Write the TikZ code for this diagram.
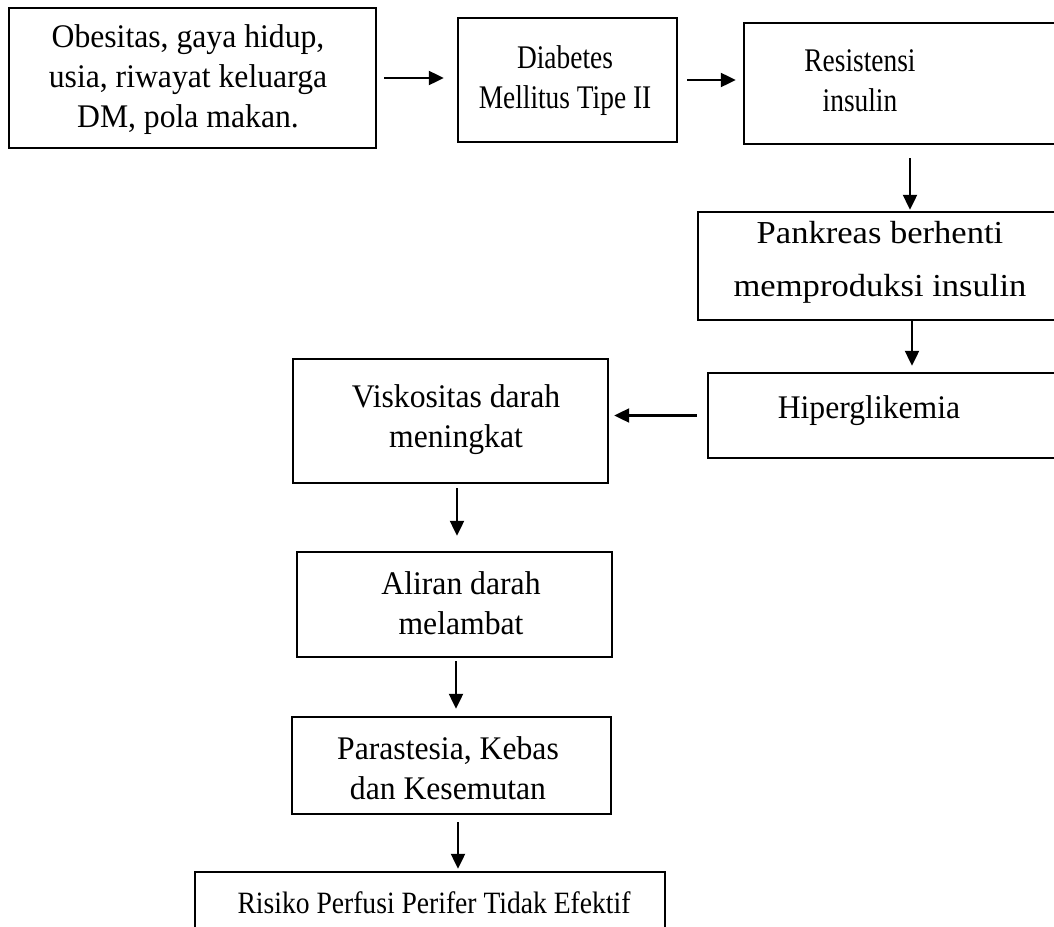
\documentclass[tikz,border=0pt]{standalone}
\usepackage{fontspec}
\setmainfont{Liberation Serif}
\newfontfamily\fnorm[FakeStretch=0.96]{Liberation Serif}
\newfontfamily\fcond[FakeStretch=0.83]{Liberation Serif}
\newfontfamily\fbott[FakeStretch=0.89]{Liberation Serif}
\newfontfamily\fwide[FakeStretch=1.08]{Liberation Serif}
\usetikzlibrary{arrows.meta,calc}
\tikzset{
  box/.style={draw, line width=1.2pt, rectangle, inner sep=0pt},
  txt/.style={inner sep=0pt, align=center, font=\fnorm\fontsize{16.5}{20}\selectfont},
  ctxt/.style={txt, font=\fcond\fontsize{16.5}{20}\selectfont},
  arr/.style={line width=1.1pt, -{Triangle[length=7.5pt,width=7pt]}}
}
\begin{document}
\begin{tikzpicture}[x=0.5pt,y=-0.5pt]
\path[use as bounding box, clip] (0,0) rectangle (1054,926);
% boxes
\node[box, minimum width=183.5pt, minimum height=70pt] (A) at (192.5,78) {};
\node[box, minimum width=109.5pt, minimum height=62pt] (B) at (567.5,80) {};
\node[box, minimum width=163pt, minimum height=60.5pt] (C) at (907,83.5) {};
\node[box, minimum width=186pt, minimum height=54pt] (D) at (884,266) {};
\node[box, minimum width=181pt, minimum height=42.5pt] (E) at (889,415.5) {};
\node[box, minimum width=157.5pt, minimum height=62pt] (F) at (450.5,421) {};
\node[box, minimum width=157.5pt, minimum height=52.5pt] (G) at (454.5,604.5) {};
\node[box, minimum width=159.5pt, minimum height=48.5pt] (H) at (451.5,765.5) {};
\node[box, minimum width=235pt, minimum height=40pt] (I) at (430,912) {};
% texts
\node[txt] (At) at (188,80) {Obesitas, gaya hidup,\\usia, riwayat keluarga\\DM, pola makan.};
\node[ctxt] (Bt) at (565,81) {Diabetes\\Mellitus Tipe II};
\node[ctxt] (Ct) at (860,81) {Resistensi\\insulin};
\node[txt, font=\fwide\fontsize{16}{26.5}\selectfont] (Dt) at (880,262) {Pankreas berhenti\\memproduksi insulin};
\node[txt] (Et) at (869,411) {Hiperglikemia};
\node[txt] (Ft) at (456,420) {Viskositas darah\\meningkat};
\node[txt] (Gt) at (461,603) {Aliran darah\\melambat};
\node[txt] (Ht) at (448,768) {Parastesia, Kebas\\dan Kesemutan};
\node[txt, font=\fbott\fontsize{15.5}{19}\selectfont] (It) at (434,903) {Risiko Perfusi Perifer Tidak Efektif};
% arrows
\draw[arr, shorten <=3.5pt, shorten >=6.5pt] (A.east) -- (A.east -| B.west);
\draw[arr, shorten <=4.5pt, shorten >=3.5pt] (B.east) -- (B.east -| C.west);
\draw[arr, shorten <=6.5pt, shorten >=0.5pt] ([xshift=1.5pt]C.south) -- ([xshift=1.5pt]C.south |- D.north);
\draw[arr, shorten >=3pt] ([xshift=14pt]D.south) -- ([xshift=14pt]D.south |- E.north);
\draw[arr, shorten <=5pt, shorten >=2.5pt] (E.west) -- (E.west -| F.east);
\draw[arr, shorten <=2pt, shorten >=7.5pt] ([xshift=3.25pt]F.south) -- ([xshift=3.25pt]F.south |- G.north);
\draw[arr, shorten <=1.5pt, shorten >=3.5pt] ([xshift=0.75pt]G.south) -- ([xshift=0.75pt]G.south |- H.north);
\draw[arr, shorten <=3.5pt, shorten >=1pt] ([xshift=3.25pt]H.south) -- ([xshift=3.25pt]H.south |- I.north);
\end{tikzpicture}
\end{document}
